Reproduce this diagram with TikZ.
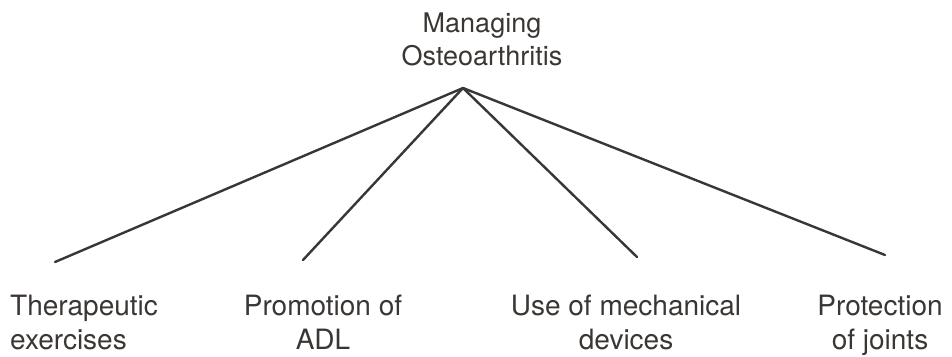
\documentclass[tikz,border=0pt]{standalone}
\usepackage{fontspec}
\setmainfont{TeX Gyre Heros}
\definecolor{ink}{HTML}{3A3633}

\begin{document}
\begin{tikzpicture}[x=1pt, y=-1pt,
	branch/.style={ink, line width=2.4pt, line cap=round},
	leaf/.style={ink, inner sep=0pt, anchor=north, align=center,
		font=\fontsize{28}{34}\selectfont}]
	\useasboundingbox (0,0) rectangle (952,356);

	\node (root) [ink, inner sep=0pt, anchor=north, align=center,
		font=\fontsize{27}{33}\selectfont] at (482,13)
		{Managing\\Osteoarthritis};

	\coordinate (apex) at (463,88);
	\coordinate (e1) at (55,262);
	\coordinate (e2) at (303,260);
	\coordinate (e3) at (637,257);
	\coordinate (e4) at (885,255);

	\foreach \e in {e1,e2,e3,e4}
		\draw [branch] (apex) -- (\e);

	\node (therapy) [leaf, anchor=north west, align=left] at (10,295)
		{Therapeutic\\exercises};
	\node (adl) [leaf] at (323,295) {Promotion of\\ADL};
	\node (devices) [leaf] at (626,295) {Use of mechanical\\devices};
	\node (joints) [leaf] at (880,295) {Protection\\of joints};
\end{tikzpicture}
\end{document}
